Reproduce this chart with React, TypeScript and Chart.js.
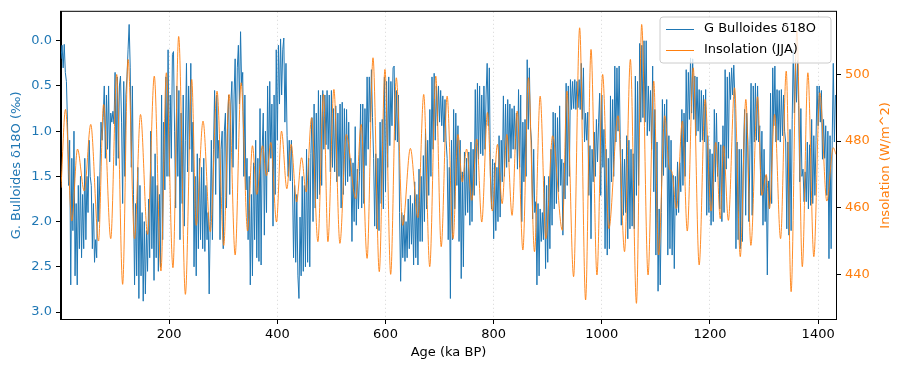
import React, { useEffect, useRef } from "react";
import { Chart, registerables } from "chart.js";

Chart.register(...registerables);

const BLUE = "#1f77b4";
const ORANGE = "#ff7f0e";
const FONT = "'DejaVu Sans', sans-serif";

// G. bulloides d18O, sampled every 2 ka starting at 0 ka BP
const d18oStartAge = 0;
const d18oStepKa = 2;
const d18oValues = [
  0.2, 0.05, 0.3, 0.04, 0.35, 0.45, 0.9, 1.6, 1.1, 2.7,
  1.3, 2.1, 1.0, 2.6, 1.8, 2.7, 1.6, 2.3, 1.5, 2.4,
  1.7, 2.3, 1.3, 2.2, 1.5, 1.9, 1.1, 1.5, 1.6, 2.3,
  1.8, 2.45, 2.2, 2.4, 1.5, 2.0, 1.45, 0.9, 1.1, 0.85,
  0.5, 1.3, 0.6, 1.2, 0.5, 1.34, 0.8, 0.9, 0.78, 0.92,
  0.35, 1.38, 0.4, 1.3, 0.5, 0.39, 0.9, 1.8, 0.45, 1.5,
  0.6, 0.4, 0.1, -0.18, 0.3, 1.4, 0.5, 1.7, 2.7, 1.8,
  2.6, 1.4, 2.85, 1.6, 2.6, 1.9, 2.88, 2.0, 2.8, 2.1,
  2.55, 1.75, 2.4, 1.0, 2.3, 1.5, 2.65, 1.25, 2.4, 1.6,
  2.55, 1.7, 2.5, 0.6, 2.2, 0.9, 1.65, 0.4, 1.5, 0.1,
  1.5, 0.6, 1.3, 0.15, 0.12, 1.0, 1.85, 0.5, 1.5, 0.55,
  2.2, 0.8, 1.8, 0.6, 2.05, 1.1, 0.25, 1.45, 0.5, 1.2,
  0.25, 1.45, 0.9, 2.5, 1.5, 2.6, 1.25, 2.3, 1.3, 2.2,
  1.4, 2.3, 1.3, 2.33, 1.6, 2.2, 1.9, 2.8, 2.0, 1.1,
  2.2, 1.2, 0.55, 1.7, 0.6, 1.3, 1.1, 2.2, 1.2, 1.0,
  2.3, 1.0, 0.8, 1.85, 0.9, 0.6, 1.7, 0.7, 0.45, 1.4,
  0.6, 0.2, 1.2, 0.3, 0.05, 0.7, -0.1, 0.5, 0.35, 1.5,
  0.6, 1.65, 1.3, 2.2, 1.5, 2.7, 1.7, 2.6, 1.35, 2.2,
  1.1, 2.4, 1.3, 2.44, 0.75, 2.48, 1.2, 0.8, 2.15, 1.0,
  1.9, 0.5, 1.45, 0.45, 1.3, 0.7, 2.05, 0.6, 1.7, 0.1,
  1.1, 0.05, 0.7, -0.02, 0.6, 0.1, -0.03, 0.9, 0.25, 1.05,
  1.5, 1.1, 1.55, 1.1, 1.56, 2.4, 1.6, 2.45, 1.7, 2.6,
  2.85, 1.95, 2.6, 1.5, 2.55, 1.6, 2.5, 1.2, 2.45, 1.3,
  2.5, 1.25, 0.85, 2.0, 0.7, 1.85, 0.8, 1.75, 0.55, 1.7,
  0.6, 1.6, 0.55, 1.2, 0.6, 1.15, 0.55, 1.2, 0.6, 1.45,
  0.55, 1.4, 0.75, 1.45, 0.72, 1.56, 0.8, 1.5, 0.7, 1.85,
  0.68, 1.7, 0.75, 1.6, 0.76, 1.56, 0.9, 1.5, 1.3, 2.22,
  1.35, 2.0, 0.95, 2.04, 1.42, 1.86, 1.45, 0.7, 1.85, 0.7,
  1.8, 0.75, 1.38, 0.4, 1.2, 0.4, 0.9, 0.32, 0.85, 1.3,
  2.05, 1.25, 2.08, 1.3, 2.1, 0.9, 1.8, 0.87, 1.86, 0.4,
  1.67, 0.45, 1.4, 0.4, 1.16, 0.45, 0.94, 0.3, 0.28, 1.1,
  0.55, 1.12, 0.6, 1.9, 2.66, 1.9, 2.4, 1.93, 2.44, 2.0,
  2.4, 1.75, 2.3, 1.71, 2.25, 1.8, 2.48, 1.56, 2.4, 1.7,
  2.48, 1.42, 2.22, 1.5, 2.22, 1.27, 2.0, 0.98, 1.86, 1.1,
  1.71, 0.76, 1.5, 0.4, 1.2, 0.36, 1.1, 0.5, 0.94, 0.5,
  0.9, 0.55, 0.94, 0.61, 1.12, 0.65, 1.1, 1.3, 2.2, 1.4,
  2.85, 1.1, 2.2, 0.76, 1.86, 0.8, 1.6, 0.94, 2.22, 1.1,
  2.63, 1.45, 2.5, 1.23, 1.93, 1.3, 1.9, 1.23, 2.04, 1.12,
  2.0, 1.2, 1.71, 0.54, 1.6, 0.47, 1.31, 0.5, 1.25, 0.6,
  1.27, 0.5, 1.2, 0.6, 0.25, 0.94, 0.3, 1.5, 1.86, 1.31,
  2.19, 1.35, 2.1, 1.4, 2.0, 1.05, 1.95, 1.1, 1.56, 0.61,
  1.5, 0.7, 1.4, 0.65, 1.34, 0.7, 1.3, 0.75, 1.2, 0.72,
  1.2, 0.8, 1.42, 0.54, 1.4, 0.6, 2.0, 0.9, 1.56, 0.87,
  1.5, 0.21, 0.98, 0.3, 0.95, 1.12, 1.97, 1.2, 1.9, 1.78,
  2.7, 1.8, 2.6, 1.86, 2.22, 1.9, 2.2, 1.5, 2.52, 1.6,
  2.45, 1.5, 2.3, 1.2, 2.04, 0.79, 1.86, 0.8, 1.8, 0.85,
  1.67, 0.72, 1.6, 1.31, 2.15, 1.35, 1.75, 0.47, 1.6, 0.5,
  1.5, 0.43, 0.76, 0.45, 0.75, 0.43, 0.76, 0.45, 0.74, 0.43,
  0.76, 0.25, 0.87, 0.3, 1.12, 0.8, 1.1, 0.79, 1.71, 1.16,
  2.19, 1.2, 1.56, 1.01, 1.5, 0.87, 1.34, 0.9, 0.58, 1.71,
  0.6, 1.4, 0.98, 2.3, 1.2, 2.37, 1.3, 2.3, 0.61, 1.56,
  0.65, 1.5, 0.28, 1.12, 0.3, 1.0, 0.28, 1.09, 2.04, 1.2,
  1.93, 1.31, 1.9, 1.05, 2.19, 1.1, 2.08, 1.2, 2.05, 1.25,
  2.08, 0.39, 1.71, 0.45, 1.6, 0.03, 0.9, 0.05, 0.85, 0.0,
  0.9, 0.0, 1.05, 0.5, 1.0, 0.55, 1.2, 0.28, 1.67, 0.76,
  2.37, 1.12, 2.77, 1.86, 2.7, 1.9, 0.65, 1.49, 0.7, 1.4,
  0.65, 2.37, 1.05, 2.3, 1.1, 2.37, 1.49, 2.52, 1.5, 1.93,
  1.34, 1.9, 1.35, 1.67, 0.76, 1.6, 0.8, 1.5, 0.32, 1.12,
  0.35, 0.87, 0.19, 0.8, 0.2, 0.87, 0.39, 1.05, 0.4, 1.0,
  0.54, 1.12, 0.55, 1.1, 0.6, 1.12, 0.54, 1.93, 1.05, 1.9,
  1.2, 2.04, 1.25, 2.0, 0.76, 1.56, 0.8, 1.5, 1.12, 1.86,
  1.15, 2.0, 0.94, 1.9, 0.32, 1.42, 0.4, 1.3, 0.35, 0.65,
  0.3, 0.6, 0.27, 0.65, 2.3, 1.12, 2.2, 1.2, 2.3, 1.2,
  2.22, 1.2, 0.76, 1.93, 0.8, 1.12, 2.0, 1.15, 0.47, 1.93,
  0.5, 1.12, 0.47, 1.1, 0.5, 1.12, 0.94, 1.71, 1.0, 2.04,
  1.2, 2.0, 1.49, 2.59, 1.55, 1.86, 0.58, 1.8, 0.3, 0.94,
  0.28, 1.12, 0.54, 1.1, 0.55, 1.12, 0.54, 1.05, 0.6, 1.0,
  1.12, 2.08, 1.12, 2.15, 0.98, 2.1, 0.87, 0.1, 0.8, 0.21,
  0.68, 0.22, 0.72, 1.56, 0.75, 1.5, 1.42, 1.78, 1.45, 1.78,
  1.12, 1.86, 1.15, 1.82, 0.87, 1.8, 1.05, 1.71, 1.1, 0.5,
  0.94, 0.5, 0.9, 0.55, 1.31, 0.87, 1.3, 0.94, 1.71, 1.0,
  2.41, 1.05, 2.3, 1.1, 0.25, 1.12, 0.6,
];

// Summer (JJA) insolation turning points
const insolAges = [
  0, 8.3, 20, 30.5, 43, 55, 69.4, 78.7, 92, 103, 114, 124, 136, 147, 160, 172.5,
  184.8, 194.8, 207, 217.6, 230, 241.7, 250, 262.6, 276, 288.5, 301, 310.7, 322,
  333, 345, 354, 362, 372.5, 380, 388, 398.5, 407.7, 417.6, 425.6, 435.6, 444.8,
  453.3, 463.3, 475, 485.5, 493.5, 504.6, 515.7, 527.4, 545, 555, 566, 576.9,
  588.5, 599, 609.6, 620, 631.8, 646, 660, 670.7, 681.8, 693, 703, 714, 725, 734,
  742, 750, 759.5, 768.8, 778, 788.6, 797.6, 807, 815.7, 824.4, 834, 843.5, 854,
  864.4, 875.5, 886, 896.7, 909, 927, 935.5, 947.8, 959, 970, 980, 991, 1001.5,
  1013, 1030, 1042, 1052.8, 1064, 1073.7, 1085.5, 1096, 1105, 1116.3, 1125, 1129,
  1138, 1149, 1158, 1169, 1180, 1191, 1202, 1210.7, 1219, 1225, 1234, 1245.4,
  1256, 1266.3, 1275.6, 1288, 1296, 1304, 1310, 1319.4, 1330.5, 1341, 1350,
  1360.7, 1370.7, 1381, 1392, 1403, 1416, 1428, 1433,
];
const insolValues = [
  466, 489.5, 456, 477.6, 465, 485, 450, 491, 450.7, 500, 437, 504.5, 450.7, 488,
  452, 499.5, 441, 500.5, 442, 511.4, 434, 498.5, 454.7, 486, 452.8, 495, 448.7,
  494, 445.8, 497.5, 453, 478.6, 464, 478.6, 469.6, 479.6, 455.7, 483, 465.7, 479,
  461.7, 475, 464.7, 487, 449.8, 494, 449.8, 495.5, 449.3, 482, 462.7, 485, 444.8,
  505, 440.8, 501.5, 440, 499, 454.7, 477.8, 457, 494, 442.3, 499.5, 448.3, 493.5,
  450.7, 482, 467.7, 477.6, 462.2, 480.6, 455.7, 488.6, 459, 479, 461.2, 482,
  457.7, 489, 447.3, 499, 446.8, 493.5, 450.7, 481.6, 453.2, 495, 439.3, 514,
  432.3, 507.5, 439.8, 500, 453.7, 487.6, 446.8, 504.5, 431.3, 515, 439.8, 498,
  445.8, 487.6, 471.6, 471, 459.7, 486, 453, 502, 442.8, 492.5, 459, 479.6, 456.7,
  478.6, 456.2, 496, 445.3, 492.5, 448.7, 493.3, 463.7, 470, 459.7, 488, 450.7,
  501, 434.8, 513, 442.3, 500.5, 445.3, 494.5, 462, 478, 476,
];

const xTicks = [200, 400, 600, 800, 1000, 1200, 1400];
const leftTicks = [0, 0.5, 1, 1.5, 2, 2.5, 3];
const rightTicks = [440, 460, 480, 500];

const xLabel = "Age (ka BP)";
const leftLabel = "G. Bulloides δ18O (‰)";
const rightLabel = "Insolation (W/m^2)";
const legendLabels = ["G Bulloides δ18O", "Insolation (JJA)"];

const decorPlugin = {
  id: "decor",
  afterDatasetsDraw(chart: any) {
    const { ctx, chartArea: a } = chart;
    ctx.save();
    ctx.strokeStyle = "#000";
    ctx.lineWidth = 1;
    ctx.strokeRect(a.left - 0.5, a.top - 0.5, a.right - a.left + 1, a.bottom - a.top + 1);
    ctx.restore();
  },
  afterDraw(chart: any) {
    const { ctx, chartArea: a } = chart;
    const cy = (a.top + a.bottom) / 2;
    ctx.save();
    ctx.font = `13px ${FONT}`;
    ctx.textAlign = "center";
    ctx.textBaseline = "middle";
    ctx.fillStyle = "#000";
    ctx.fillText(xLabel, (a.left + a.right) / 2, 353);
    ctx.save();
    ctx.translate(17, cy);
    ctx.rotate(-Math.PI / 2);
    ctx.fillStyle = BLUE;
    ctx.fillText(leftLabel, 0, 0);
    ctx.restore();
    ctx.save();
    ctx.translate(886, cy);
    ctx.rotate(-Math.PI / 2);
    ctx.fillStyle = ORANGE;
    ctx.fillText(rightLabel, 0, 0);
    ctx.restore();
    // legend
    const lx = 660, ly = 17, lw = 171, lh = 46, r = 3;
    ctx.beginPath();
    ctx.moveTo(lx + r, ly);
    ctx.arcTo(lx + lw, ly, lx + lw, ly + lh, r);
    ctx.arcTo(lx + lw, ly + lh, lx, ly + lh, r);
    ctx.arcTo(lx, ly + lh, lx, ly, r);
    ctx.arcTo(lx, ly, lx + lw, ly, r);
    ctx.closePath();
    ctx.fillStyle = "rgba(255,255,255,0.8)";
    ctx.fill();
    ctx.strokeStyle = "#cccccc";
    ctx.lineWidth = 1;
    ctx.stroke();
    const colors = [BLUE, ORANGE];
    const rows = [29, 50];
    ctx.textAlign = "left";
    for (let i = 0; i < 2; i++) {
      ctx.strokeStyle = colors[i];
      ctx.lineWidth = 1;
      ctx.beginPath();
      ctx.moveTo(666, rows[i] + 0.5);
      ctx.lineTo(694, rows[i] + 0.5);
      ctx.stroke();
      ctx.fillStyle = "#000";
      ctx.fillText(legendLabels[i], 704, rows[i]);
    }
    ctx.restore();
  },
};

export default function App() {
  const ref = useRef<HTMLCanvasElement | null>(null);
  useEffect(() => {
    if (!ref.current) return;
    const d18oData = d18oValues.map((v, i) => ({ x: d18oStartAge + i * d18oStepKa, y: v }));
    const insolData = insolAges.map((x, i) => ({ x, y: insolValues[i] }));
    const tickFont = { family: FONT, size: 13 };
    const chart = new Chart(ref.current, {
      type: "line",
      data: {
        datasets: [
          {
            label: legendLabels[1],
            data: insolData,
            yAxisID: "y2",
            borderColor: ORANGE,
            borderWidth: 0.9,
            pointRadius: 0,
            cubicInterpolationMode: "monotone",
            fill: false,
          },
          {
            label: legendLabels[0],
            data: d18oData,
            yAxisID: "y",
            borderColor: BLUE,
            borderWidth: 1,
            pointRadius: 0,
            tension: 0,
            fill: false,
          },
        ],
      },
      options: {
        responsive: false,
        animation: false,
        events: [],
        layout: { padding: { top: 10, left: 0, right: 0, bottom: 0 } },
        plugins: { legend: { display: false }, tooltip: { enabled: false } },
        scales: {
          x: {
            type: "linear",
            min: 0,
            max: 1433,
            afterBuildTicks: (s: any) => { s.ticks = xTicks.map((v) => ({ value: v })); },
            afterFit: (s: any) => { s.height = 52; },
            ticks: {
              color: "#000",
              font: tickFont,
              padding: 3,
              maxRotation: 0,
              autoSkip: false,
              callback: (v: any) => String(v),
            },
            grid: {
              display: true,
              drawOnChartArea: true,
              color: "rgba(176,176,176,0.5)",
              tickLength: 5,
              tickColor: "#000",
              tickBorderDash: [],
            },
            border: { display: true, color: "#000", width: 1, dash: [1, 3] },
          },
          y: {
            type: "linear",
            position: "left",
            reverse: true,
            min: -0.32,
            max: 3.077,
            afterBuildTicks: (s: any) => { s.ticks = leftTicks.map((v) => ({ value: v })); },
            afterFit: (s: any) => { s.width = 61; },
            ticks: {
              color: BLUE,
              font: tickFont,
              padding: 4,
              callback: (v: any) => Number(v).toFixed(1),
            },
            grid: { display: true, drawOnChartArea: false, tickLength: 5, tickColor: "#000" },
            border: { display: true, color: "#000", width: 1 },
          },
          y2: {
            type: "linear",
            position: "right",
            min: 426.6,
            max: 518.8,
            afterBuildTicks: (s: any) => { s.ticks = rightTicks.map((v) => ({ value: v })); },
            afterFit: (s: any) => { s.width = 66; },
            ticks: { color: ORANGE, font: tickFont, padding: 4, callback: (v: any) => String(v) },
            grid: { display: true, drawOnChartArea: false, tickLength: 5, tickColor: "#000" },
            border: { display: true, color: "#000", width: 1 },
          },
        },
      },
      plugins: [decorPlugin],
    } as any);
    return () => chart.destroy();
  }, []);
  return (
    <div style={{ position: "absolute", left: 0, top: 0, width: 902, height: 371, background: "#fff" }}>
      <canvas ref={ref} width={902} height={371} style={{ display: "block", width: 902, height: 371 }} />
    </div>
  );
}
